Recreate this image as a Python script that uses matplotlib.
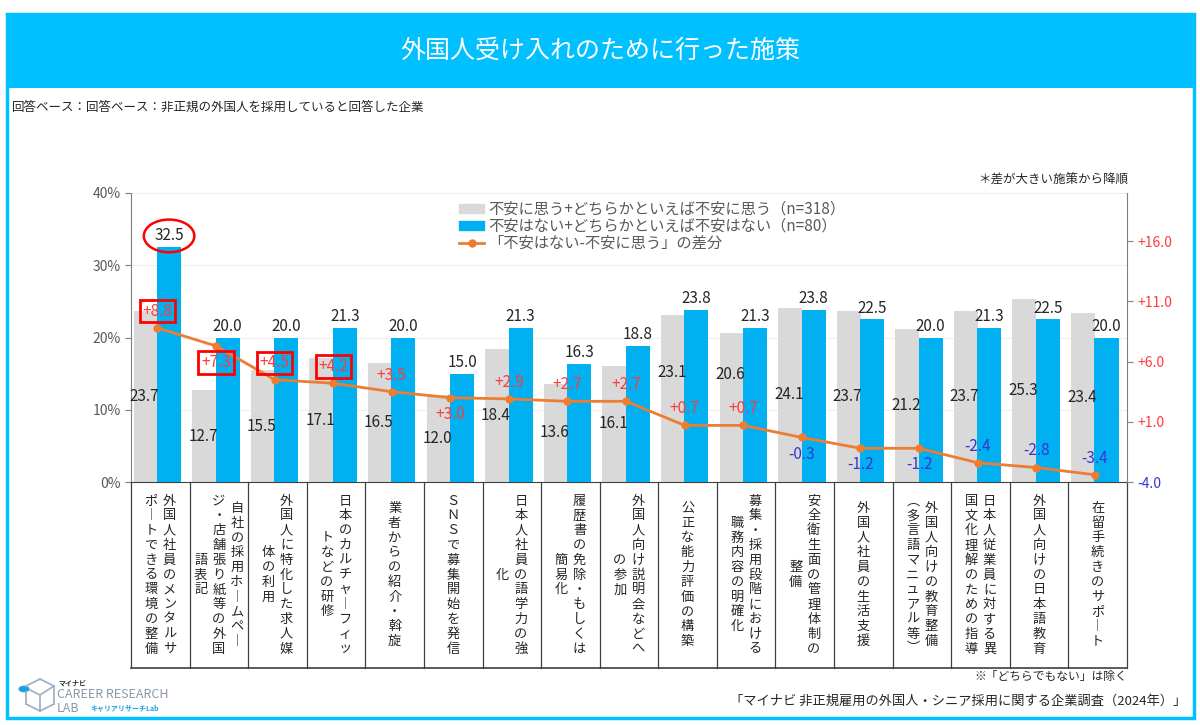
import matplotlib
matplotlib.use("Agg")
import matplotlib.pyplot as plt
import numpy as np
from matplotlib.patches import Rectangle, Patch, Circle
from matplotlib.lines import Line2D

plt.rcParams["font.family"] = ["Noto Sans CJK JP", "DejaVu Sans"]

# ---- data ----
# category labels, one entry per vertical column (right column first)
categories = [
    ["外国人社員のメンタルサ", "ポートできる環境の整備"],
    ["自社の採用ホームペー", "ジ・店舗張り紙等の外国", "語表記"],
    ["外国人に特化した求人媒", "体の利用"],
    ["日本のカルチャーフィッ", "トなどの研修"],
    ["業者からの紹介・斡旋"],
    ["ＳＮＳで募集開始を発信"],
    ["日本人社員の語学力の強", "化"],
    ["履歴書の免除・もしくは", "簡易化"],
    ["外国人向け説明会などへ", "の参加"],
    ["公正な能力評価の構築"],
    ["募集・採用段階における", "職務内容の明確化"],
    ["安全衛生面の管理体制の", "整備"],
    ["外国人社員の生活支援"],
    ["外国人向けの教育整備", "（多言語マニュアル等）"],
    ["日本人従業員に対する異", "国文化理解のための指導"],
    ["外国人向けの日本語教育"],
    ["在留手続きのサポート"],
]
anxious = [23.7, 12.7, 15.5, 17.1, 16.5, 12.0, 18.4, 13.6, 16.1,
           23.1, 20.6, 24.1, 23.7, 21.2, 23.7, 25.3, 23.4]
not_anxious = [32.5, 20.0, 20.0, 21.3, 20.0, 15.0, 21.3, 16.3, 18.8,
               23.8, 21.3, 23.8, 22.5, 20.0, 21.3, 22.5, 20.0]
diff = [8.8, 7.3, 4.5, 4.2, 3.5, 3.0, 2.9, 2.7, 2.7,
        0.7, 0.7, -0.3, -1.2, -1.2, -2.4, -2.8, -3.4]
# where the difference label sits relative to its point
diff_side = ["up", "down", "up", "up", "up", "down", "up", "up", "up",
             "up", "up", "down", "down", "down", "up", "up", "up"]
boxed = [0, 1, 2, 3]

series_names = ["不安に思う+どちらかといえば不安に思う（n=318）",
                "不安はない+どちらかといえば不安はない（n=80）",
                "「不安はない-不安に思う」の差分"]
left_ticks = [0, 10, 20, 30, 40]
right_ticks = [-4, 1, 6, 11, 16]

GRAY = "#D9D9D9"
BLUE = "#00B0F0"
ORANGE = "#ED7D31"
RED = "#FF3B3B"
NEG = "#3535D8"
HEAD = "#00C0FF"
TXT = "#595959"

W, H = 1200, 725


def fx(x):
    return x / W


def fy(y):
    return 1 - y / H


VERT = {"ー": "︱", "（": "︵", "）": "︶"}


def vertical(s):
    return "\n".join(VERT.get(c, c) for c in s)


fig = plt.figure(figsize=(12, 7.25), dpi=100)

# frame + header
fig.patches.append(Rectangle((fx(7), fy(718)), fx(1187), 704 / H, transform=fig.transFigure,
                             fill=False, ec=HEAD, lw=2.5))
fig.patches.append(Rectangle((fx(7), fy(88)), fx(1187), 74 / H, transform=fig.transFigure,
                             fc=HEAD, ec="none"))
fig.text(0.5, fy(51), "外国人受け入れのために行った施策", color="white", fontsize=18,
         ha="center", va="center")
fig.text(fx(12), fy(107), "回答ベース：回答ベース：非正規の外国人を採用していると回答した企業",
         fontsize=9, color="#262626", va="center")
fig.text(fx(1128), fy(180), "＊差が大きい施策から降順", fontsize=9, color="#262626",
         ha="right", va="center")

ax = fig.add_axes([fx(131), fy(482), 996 / W, 289 / H])
x = np.arange(len(anxious))
ax.bar(x - 0.25, anxious, width=0.41, color=GRAY, zorder=2)
ax.bar(x + 0.15, not_anxious, width=0.41, color=BLUE, zorder=3)

# gray labels sit mid-bar, except two lifted clear of the difference labels
lifted = {9: 15.2, 10: 14.9}
for i in x:
    ax.text(i - 0.27, lifted.get(i, anxious[i] / 2), f"{anxious[i]:.1f}", ha="center",
            va="center", fontsize=11, color="#262626", zorder=4)
    bb = None
    if i == 0:
        bb = dict(boxstyle="ellipse,pad=0.2", fc="none", ec="red", lw=1.8)
    ax.annotate(f"{not_anxious[i]:.1f}", (i + 0.15, not_anxious[i]), xytext=(0, 2),
                textcoords="offset points", ha="center", va="bottom", fontsize=11,
                color="#262626", bbox=bb, zorder=4)

ax.set_xlim(-0.5, len(anxious) - 0.5)
ax.set_ylim(0, 40)
ax.set_yticks(left_ticks)
ax.set_yticklabels([f"{t}%" for t in left_ticks], fontsize=10, color=TXT)
ax.set_xticks([])
ax.grid(axis="y", color="#EFEFEF", lw=0.8, zorder=0)
ax.set_axisbelow(True)
ax.spines["top"].set_visible(False)
ax.spines["right"].set_visible(False)
ax.spines["left"].set_color("#7F7F7F")
ax.spines["bottom"].set_color("#404040")
ax.tick_params(axis="y", length=4, color="#7F7F7F")

# category boxes below the axis
box_bottom = -(668 - 482) / 289 * 40
for b in np.arange(len(anxious) + 1) - 0.5:
    ax.plot([b, b], [0, box_bottom], color="#404040", lw=0.9, clip_on=False)
ax.plot([-0.5, len(anxious) - 0.5], [box_bottom, box_bottom], color="#404040", lw=1.2,
        clip_on=False)
for i, cols in enumerate(categories):
    n = len(cols)
    for j, col in enumerate(cols):
        off = ((n - 1) / 2 - j) * 0.31
        ax.text(i + off, box_bottom / 2, vertical(col), ha="center", va="center",
                fontsize=9.5, linespacing=1.18, color="#262626", clip_on=False)

# difference line on the right axis
ax2 = ax.twinx()
ax2.plot(x - 0.05, diff, color=ORANGE, lw=2, marker="o", ms=5, zorder=5)
ax2.set_ylim(-4, 20)
ax2.set_yticks(right_ticks)
ax2.set_yticklabels([f"{t:+.1f}" for t in right_ticks], fontsize=10)
for lab, t in zip(ax2.get_yticklabels(), right_ticks):
    lab.set_color(NEG if t < 0 else RED)
ax2.tick_params(axis="y", length=4, color="#7F7F7F")
ax2.spines["top"].set_visible(False)
ax2.spines["left"].set_visible(False)
ax2.spines["bottom"].set_visible(False)
ax2.spines["right"].set_color("#7F7F7F")

for i in x:
    dy = 12 if diff_side[i] == "up" else -12
    bb = dict(boxstyle="square,pad=0.18", fc="none", ec="red", lw=2) if i in boxed else None
    ax2.annotate(f"{diff[i]:+.1f}", (i - 0.05, diff[i]), xytext=(0, dy),
                 textcoords="offset points", ha="center", va="center", fontsize=11,
                 color=NEG if diff[i] < 0 else RED, bbox=bb, zorder=6)

handles = [Patch(color=GRAY), Patch(color=BLUE),
           Line2D([], [], color=ORANGE, lw=2, marker="o", ms=5)]
leg = ax2.legend(handles, series_names, loc="upper left", bbox_to_anchor=(0.322, 1.0),
                 frameon=False, fontsize=11, labelspacing=0.0, handlelength=1.6,
                 handleheight=0.5, handletextpad=0.3, borderaxespad=0.1)
for t in leg.get_texts():
    t.set_color(TXT)

# footer
fig.text(fx(1127), fy(676), "※「どちらでもない」は除く", fontsize=8.5, color="#262626",
         ha="right", va="center")
fig.text(fx(1186), fy(701), "「マイナビ 非正規雇用の外国人・シニア採用に関する企業調査（2024年）」",
         fontsize=9.5, color="#262626", ha="right", va="center")

# logo
lc = "#9FB3C8"
for seg in [((26, 686), (40, 679)), ((40, 679), (54, 686)), ((54, 686), (54, 704)),
            ((54, 704), (40, 711)), ((40, 711), (26, 704)), ((26, 704), (26, 692)),
            ((40, 695), (54, 686)), ((40, 695), (40, 711)), ((40, 695), (30, 690))]:
    (x0, y0), (x1, y1) = seg
    fig.lines.append(Line2D([fx(x0), fx(x1)], [fy(y0), fy(y1)], transform=fig.transFigure,
                            color=lc, lw=1.3))
fig.patches.append(Circle((fx(24), fy(689)), 5.5 / W, transform=fig.transFigure,
                          fc="#1BA1E2", ec="none"))
fig.text(fx(58), fy(683), "マイナビ", fontsize=5, fontweight="bold", color="#333333",
         va="center")
fig.text(fx(57), fy(695), "CAREER RESEARCH", fontsize=9, color="#8A9AAA", va="center")
fig.text(fx(57), fy(708), "LAB", fontsize=9, color="#8A9AAA", va="center")
fig.text(fx(90), fy(708), "キャリアリサーチLab", fontsize=5, fontweight="bold",
         color="#1BA1E2", va="center")

fig.savefig("out.png", dpi=100)
